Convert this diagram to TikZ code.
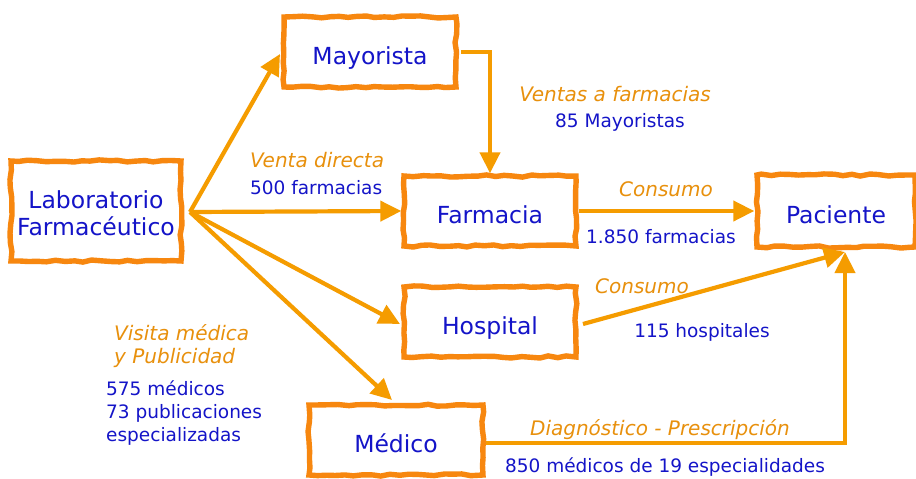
\documentclass[tikz,border=0pt]{standalone}
\usepackage{fontspec}
\setmainfont{DejaVu Sans}
\usetikzlibrary{arrows.meta,decorations.pathmorphing}
\definecolor{boxor}{HTML}{F7870F}
\definecolor{arror}{HTML}{F59C00}
\definecolor{labor}{HTML}{E8900C}
\definecolor{txtblue}{HTML}{1414C8}
\newcommand{\boxtext}[1]{\raisebox{-12.5pt}[0pt][0pt]{#1}}
\newcommand{\labline}[1]{\raisebox{-10.5pt}[0pt][0pt]{#1}}
\begin{document}
\begin{tikzpicture}[x=1pt,y=-1pt,
  sketchbox/.style={draw=boxor, line width=5.4pt, fill=white,
    decorate, decoration={random steps, segment length=9pt, amplitude=1.1pt},
    inner sep=0pt, text=txtblue, font=\fontsize{23.5}{29}\selectfont, align=center},
  flow/.style={draw=arror, line width=4.2pt, -{Triangle[length=21pt,width=20pt]}},
  lab/.style={text=labor, font=\fontsize{20}{23}\selectfont\itshape, inner sep=0pt},
  num/.style={text=txtblue, font=\fontsize{18.5}{23}\selectfont, inner sep=0pt},
]
\useasboundingbox (0,0) rectangle (916,479);
\fill[white] (0,0) rectangle (916,479);
% boxes
\node[sketchbox, minimum width=170pt, minimum height=100pt] (lab) at (96,211) {\labline{Laboratorio}\\[-2pt]\labline{Farmacéutico}};
\node[sketchbox, minimum width=172pt, minimum height=70pt] (may) at (370,52) {\boxtext{Mayorista}};
\node[sketchbox, minimum width=172pt, minimum height=70pt] (far) at (490,211) {\boxtext{Farmacia}};
\node[sketchbox, minimum width=158pt, minimum height=72pt] (pac) at (836,211) {\boxtext{Paciente}};
\node[sketchbox, minimum width=172pt, minimum height=70pt] (hos) at (490,322) {\boxtext{Hospital}};
\node[sketchbox, minimum width=174pt, minimum height=70pt] (med) at (396,440) {\boxtext{Médico}};
% helper coordinates
\coordinate (src) at (190,212);
\coordinate (mayT) at (280,54);
\coordinate (hosT) at (400,324);
\coordinate (medT) at (392,400);
\coordinate (mayR) at (461,52);
\coordinate (mayC) at (490,52);
\coordinate (pacB) at (845,252);
\coordinate (hosR) at (583,324);
\coordinate (medC) at (845,443);
% arrows
\draw[flow] (src) -- (mayT);
\draw[flow] (src) -- (far.west);
\draw[flow] (src) -- (hosT);
\draw[flow] (src) -- (medT);
\draw[flow] (mayR) -- (mayC) -- (far.north -| mayC);
\draw[flow] (far.east) -- (pac.west);
\draw[flow] (hosR) -- (pacB);
\draw[flow] (med.east |- medC) -- (medC) -- (pacB);
% labels
\node[lab] (l1) at (615,94) {Ventas a farmacias};
\node[num] (n1) at (620,122) {85 Mayoristas};
\node[lab, anchor=west] (l2) at (250,160) {Venta directa};
\node[num, anchor=west] (n2) at (250,188) {500 farmacias};
\node[lab] (l3) at (666,189) {Consumo};
\node[num] (n3) at (661,237) {1.850 farmacias};
\node[lab] (l4) at (642,286) {Consumo};
\node[num] (n4) at (702,332) {115 hospitales};
\node[lab, anchor=west, align=left] (l5) at (114,346) {Visita médica\\ y Publicidad};
\node[num, anchor=west, align=left] (n5) at (106,413) {575 médicos\\73 publicaciones\\especializadas};
\node[lab] (l6) at (660,430) {Diagnóstico - Prescripción};
\node[num] (n6) at (665,467) {850 médicos de 19 especialidades};
\end{tikzpicture}
\end{document}
